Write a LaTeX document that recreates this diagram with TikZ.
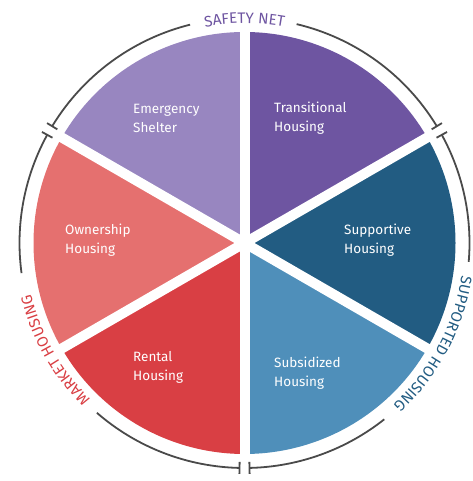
\documentclass[tikz,border=0pt]{standalone}
\usepackage{fontspec}
\setmainfont{Fira Sans}
\usetikzlibrary{decorations.text}
\definecolor{cEmer}{HTML}{9886C0}
\definecolor{cTrans}{HTML}{6E55A1}
\definecolor{cSupp}{HTML}{225C82}
\definecolor{cSubs}{HTML}{4F8FBA}
\definecolor{cRent}{HTML}{D93F44}
\definecolor{cOwn}{HTML}{E5706F}
\definecolor{cRing}{HTML}{4A4A4A}
\newcommand{\lblfont}{\fontsize{15.2}{15.2}\selectfont}
\begin{document}
\begin{tikzpicture}[x=1pt,y=1pt,
  wtext/.style={text=white,font=\fontsize{13.5}{19}\selectfont,align=left,inner sep=0pt,anchor=west},
  ringline/.style={draw=cRing,line width=1.8pt},
  gapline/.style={white,line width=10pt}]
\useasboundingbox (0,0) rectangle (472,481);
\coordinate (c) at (244.5,238);
% wedges
\fill[cTrans] (c) -- ++(30:211) arc[start angle=30,end angle=90,radius=211] -- cycle;
\fill[cEmer] (c) -- ++(90:211) arc[start angle=90,end angle=150,radius=211] -- cycle;
\fill[cOwn] (c) -- ++(150:211) arc[start angle=150,end angle=210,radius=211] -- cycle;
\fill[cRent] (c) -- ++(210:211) arc[start angle=210,end angle=270,radius=211] -- cycle;
\fill[cSubs] (c) -- ++(270:211) arc[start angle=270,end angle=330,radius=211] -- cycle;
\fill[cSupp] (c) -- ++(330:211) arc[start angle=330,end angle=390,radius=211] -- cycle;
\foreach \a in {30,90,150,210,270,330} \draw[gapline] (c) -- ++(\a:218);
% ring arcs
\draw[ringline] (c) ++(148.73:225) arc[start angle=148.73,end angle=104,radius=225];
\draw[ringline] (c) ++(76.6:225) arc[start angle=76.6,end angle=31.27,radius=225];
\draw[ringline] (c) ++(28.73:225) arc[start angle=28.73,end angle=-4.8,radius=225];
\draw[ringline] (c) ++(-51.6:225) arc[start angle=-51.6,end angle=-88.73,radius=225];
\draw[ringline] (c) ++(151.27:225) arc[start angle=151.27,end angle=187.7,radius=225];
\draw[ringline] (c) ++(229:225) arc[start angle=229,end angle=268.73,radius=225];
% ticks
\foreach \a in {148.73,151.27,31.27,28.73,268.73,271.27}
  \draw[ringline] (c) ++(\a:219) -- ++(\a:12);
% curved labels
\path[decorate,decoration={text along path,text align=center,text color=cTrans,
  text={|\lblfont|SAFETY NET}}]
  (c) ++(150:219.5) arc[start angle=150,end angle=30,radius=219.5];
\path[decorate,decoration={text along path,text align=center,text color=cSupp,
  text={|\lblfont|SUPPORTED HOUSING}}]
  (c) ++(32:219.5) arc[start angle=32,end angle=-88,radius=219.5];
\path[decorate,decoration={text along path,text align=center,text color=cRent,
  text={|\lblfont|MARKET HOUSING}}]
  (c) ++(269.5:219.5) arc[start angle=269.5,end angle=149.5,radius=219.5];
% wedge labels
\node[wtext] (emer) at (133,363) {Emergency\\Shelter};
\node[wtext] (trans) at (274,363) {Transitional\\Housing};
\node[wtext] (supp) at (344,241) {Supportive\\Housing};
\node[wtext] (own) at (65,241) {Ownership\\Housing};
\node[wtext] (rent) at (133,114) {Rental\\Housing};
\node[wtext] (subs) at (274,108) {Subsidized\\Housing};
\end{tikzpicture}
\end{document}
